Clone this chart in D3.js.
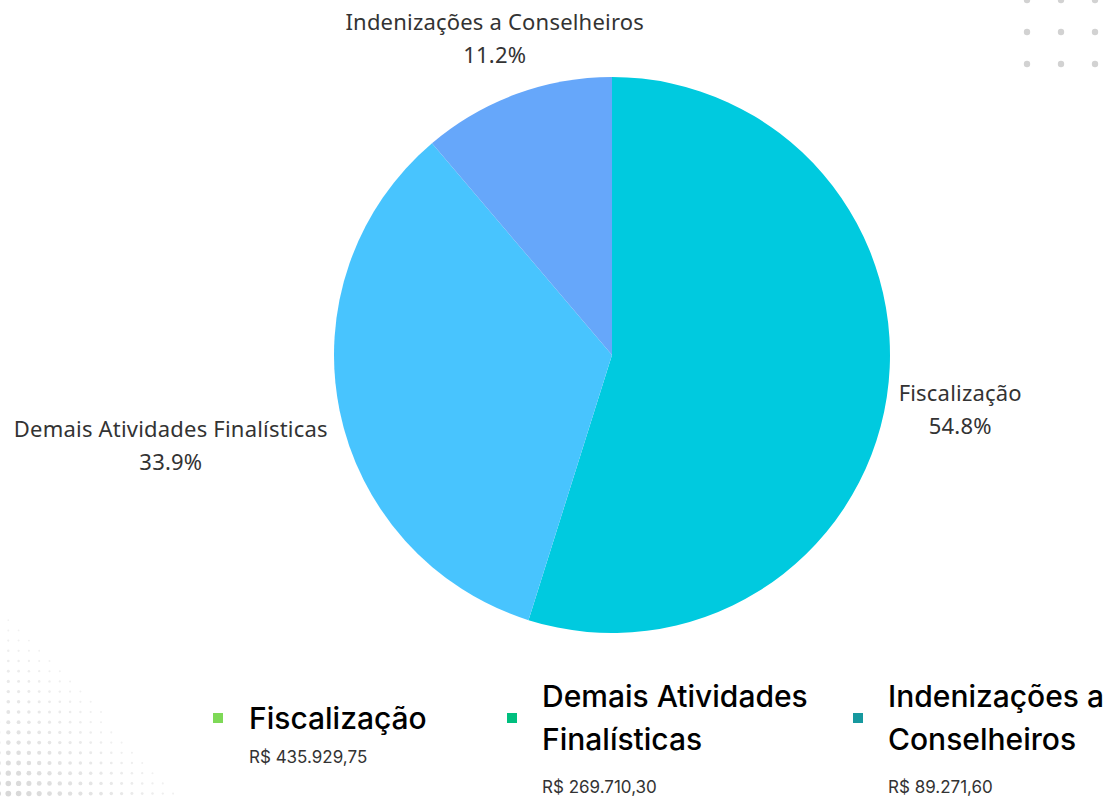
<!DOCTYPE html>
<html>
<head>
<meta charset="utf-8">
<script src="https://cdn.jsdelivr.net/npm/d3@7"></script>
<style>
  body { margin: 0; background: #fff; }
  svg { display: block; }
</style>
</head>
<body>
<script>
// chart data
const categories = ["Fiscalização", "Demais Atividades Finalísticas", "Indenizações a Conselheiros"];
const shares = [54.8, 33.9, 11.2];
const sliceColors = ["#00cadf", "#48c4fe", "#66a7fa"];

// legend block (values in R$)
const legendTitles = [["Fiscalização"], ["Demais Atividades", "Finalísticas"], ["Indenizações a", "Conselheiros"]];
const legendValues = ["R$ 435.929,75", "R$ 269.710,30", "R$ 89.271,60"];
const legendColors = ["#7ed957", "#00bf7f", "#17999f"];

const width = 1114, height = 797;
const cx = 612, cy = 355, radius = 278;
const legendPos = [213, 507, 853];

const svg = d3.select("body").append("svg")
    .attr("width", width)
    .attr("height", height);

// background decorations
const deco = svg.append("g").attr("fill", "#d2d2d2");
d3.cross([0, 1, 2], [0, 1, 2]).forEach(([i, j]) => {
    deco.append("circle")
        .attr("cx", 1027 + i * 34)
        .attr("cy", 0 + j * 32)
        .attr("r", 3.2);
});
const halftone = svg.append("g");
for (let row = 0; row < 19; row++) {
    const y = 610 + row * 10.2;
    const n = Math.round(1 + row * 0.95);
    for (let col = 0; col < n; col++) {
        const x = -2 + col * 10.3;
        const t = (row / 18) * (1 - col / (n + 1));
        halftone.append("circle")
            .attr("cx", x)
            .attr("cy", y)
            .attr("r", 0.8 + 2.2 * t)
            .attr("fill", d3.interpolateRgb("#f3f3f3", "#d6d6d6")(t));
    }
}

// pie
const pie = d3.pie().sort(null).value(d => d)(shares);
const arc = d3.arc().innerRadius(0).outerRadius(radius);
const labelArc = d3.arc().innerRadius(radius + 12).outerRadius(radius + 12);

const g = svg.append("g").attr("transform", `translate(${cx},${cy})`);

g.selectAll("path")
    .data(pie)
    .join("path")
    .attr("d", arc)
    .attr("fill", (d, i) => sliceColors[i]);

pie.forEach((d, i) => {
    const mid = (d.startAngle + d.endAngle) / 2;
    const [px, py] = labelArc.centroid(d);
    const s = Math.sin(mid);
    let anchor = "middle", x0 = px, y0 = py;
    if (s > 0.5) { anchor = "start"; y0 = py + 2; }
    else if (s < -0.5) { anchor = "end"; y0 = py + 24; }
    else { x0 = px + s * 50; y0 = py - 53; }
    const lab = g.append("g")
        .attr("font-family", "'Noto Sans', sans-serif")
        .attr("font-size", 22)
        .attr("letter-spacing", 0.2)
        .attr("fill", "#333");
    const t1 = lab.append("text")
        .attr("text-anchor", anchor)
        .attr("x", x0)
        .attr("y", y0)
        .text(categories[i]);
    const w = t1.node().getComputedTextLength();
    const mx = anchor === "middle" ? x0 : (anchor === "start" ? x0 + w / 2 : x0 - w / 2);
    lab.append("text")
        .attr("text-anchor", "middle")
        .attr("x", mx)
        .attr("y", y0 + 33)
        .text(shares[i].toFixed(1) + "%");
});

// legend
const leg = svg.append("g");
legendTitles.forEach((lines, i) => {
    const item = leg.append("g").attr("transform", `translate(${legendPos[i]},0)`);
    item.append("rect")
        .attr("x", 0).attr("y", 713)
        .attr("width", 10).attr("height", 10)
        .attr("fill", legendColors[i]);
    const tx = i === 0 ? 36 : 35;
    const top = lines.length === 1 ? 729 : 707;
    lines.forEach((line, k) => {
        item.append("text")
            .attr("x", tx)
            .attr("y", top + k * 43)
            .attr("font-family", "Inter, 'Noto Sans', sans-serif")
            .attr("font-size", 30)
            .attr("font-weight", 500)
            .attr("fill", "#000")
            .text(line);
    });
    item.append("text")
        .attr("x", tx)
        .attr("y", lines.length === 1 ? 763 : 793)
        .attr("font-family", "Inter, 'Noto Sans', sans-serif")
        .attr("font-size", 17)
        .attr("fill", "#333")
        .text(legendValues[i]);
});
</script>
</body>
</html>
